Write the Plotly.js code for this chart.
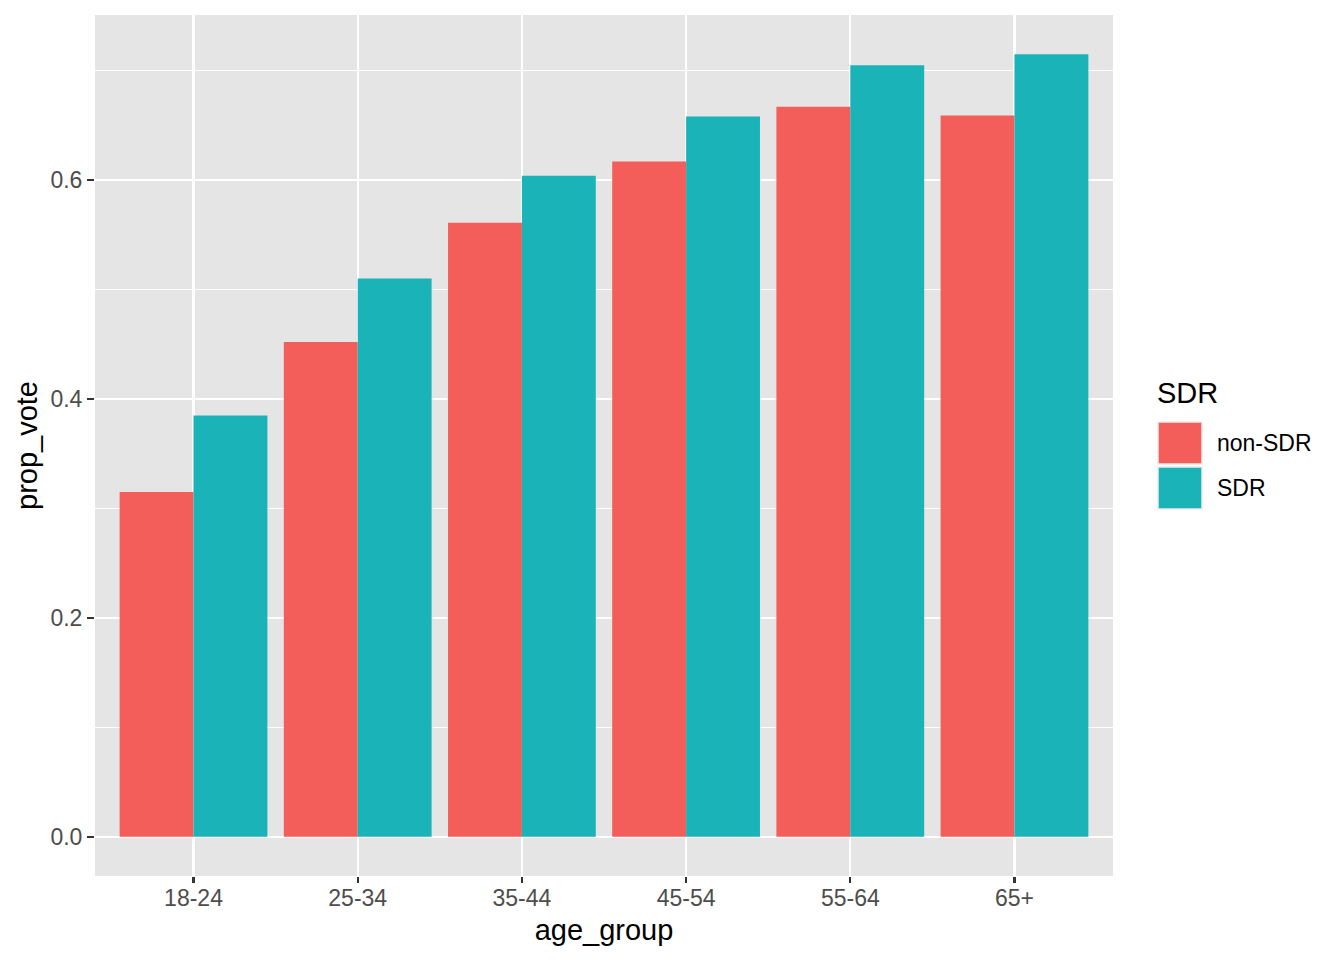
<!DOCTYPE html>
<html>
<head>
<meta charset="utf-8">
<script src="https://cdn.plot.ly/plotly-3.0.1.min.js"></script>
<style>html,body{margin:0;padding:0;background:#fff;}</style>
</head>
<body>
<div id="chart" style="width:1344px;height:960px;"></div>
<script>
const ageGroups = ["18-24", "25-34", "35-44", "45-54", "55-64", "65+"];
const nonSDR = [0.315, 0.452, 0.561, 0.617, 0.667, 0.659];
const SDR = [0.385, 0.510, 0.604, 0.658, 0.705, 0.715];
const seriesNames = ["non-SDR", "SDR"];
const seriesColors = ["#F35E5A", "#19B3B8"];
const yTicks = [0, 0.2, 0.4, 0.6];

const W = 1344, H = 960;
const L = 95, R = 1113, T = 15, B = 876;
const px = x => (x - L) / (R - L);
const py = y => (B - y) / (B - T);

const traces = [nonSDR, SDR].map((vals, i) => ({
  type: 'bar', x: ageGroups, y: vals, name: seriesNames[i],
  marker: {color: seriesColors[i], line: {width: 0}},
  showlegend: false, hoverinfo: 'x+y+name'
}));

const font = {family: 'Liberation Sans, Arial, Helvetica, sans-serif'};

const shapes = [];
const annotations = [];
// legend
annotations.push({xref:'paper', yref:'paper', x: px(1155), y: py(393), xanchor:'left', yanchor:'middle',
  text:'SDR', showarrow:false, font:{family:font.family, size:29, color:'#000'}});
const keyTops = [422, 467];
keyTops.forEach((t, i) => {
  shapes.push({type:'rect', xref:'paper', yref:'paper', x0: px(1158), x1: px(1202), y0: py(t), y1: py(t+42),
    fillcolor: seriesColors[i], line:{color:'#EBEBEB', width:1.5}});
  annotations.push({xref:'paper', yref:'paper', x: px(1215), y: py(t+21), xanchor:'left', yanchor:'middle',
    text: seriesNames[i], showarrow:false, font:{family:font.family, size:23, color:'#000'}});
});

const layout = {
  width: W, height: H,
  margin: {l: L, r: W - R, t: T, b: H - B, pad: 0},
  paper_bgcolor: '#fff', plot_bgcolor: '#E5E5E5',
  font: font,
  barmode: 'group', bargap: 0.1, bargroupgap: 0,
  showlegend: false,
  xaxis: {
    type: 'category', range: [-0.6, 5.6], fixedrange: true,
    showgrid: true, gridcolor: '#fff', gridwidth: 2.2,
    ticks: 'outside', ticklen: 6, tickwidth: 2.2, tickcolor: '#333',
    ticklabelstandoff: -5,
    tickfont: {family: font.family, size: 23, color: '#4D4D4D'},
    showline: false, zeroline: false, automargin: false,
    title: {text: 'age_group', font: {family: font.family, size: 29, color: '#000'}, standoff: 10}
  },
  yaxis: {
    range: [-0.0358, 0.7508], fixedrange: true,
    tickmode: 'array', tickvals: yTicks, ticktext: yTicks.map(v => v.toFixed(1)),
    showgrid: true, gridcolor: '#fff', gridwidth: 2.2,
    minor: {tickvals: [0.1, 0.3, 0.5, 0.7], showgrid: true, gridcolor: '#fff', gridwidth: 1.1, ticks: ''},
    ticks: 'outside', ticklen: 7, tickwidth: 2.2, tickcolor: '#333',
    tickfont: {family: font.family, size: 23, color: '#4D4D4D'},
    showline: false, zeroline: false, automargin: false,
    title: {text: 'prop_vote', font: {family: font.family, size: 29, color: '#000'}, standoff: 4}
  },
  shapes: shapes,
  annotations: annotations
};

Plotly.newPlot('chart', traces, layout, {displayModeBar: false, staticPlot: true});
</script>
</body>
</html>
